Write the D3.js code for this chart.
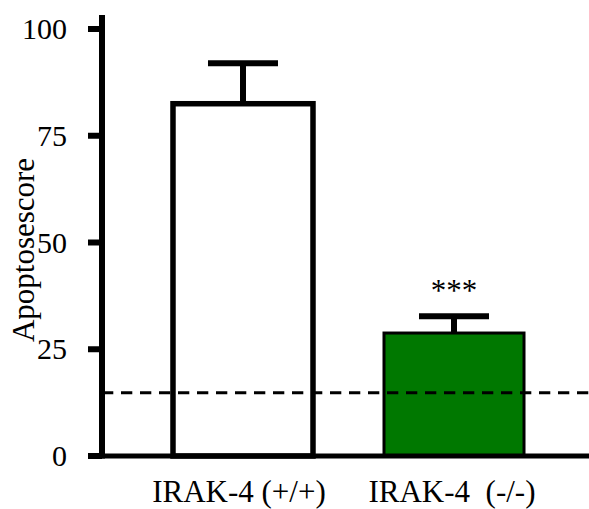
<!DOCTYPE html>
<html>
<head>
<meta charset="utf-8">
<script src="https://cdn.jsdelivr.net/npm/d3@7"></script>
<style>
  html, body { margin: 0; padding: 0; background: #fff; }
  svg { display: block; }
  text { font-family: "Liberation Serif", "Times New Roman", serif; fill: #000; }
</style>
</head>
<body>
<svg id="chart" width="589" height="509"></svg>
<script>
const categories = ["IRAK-4 (+/+)", "IRAK-4  (-/-)"];
const means = [82.5, 28.8];
const errors = [9.5, 3.9];
const fills = ["#ffffff", "#007800"];
const strokeWidths = [5.5, 3];
const significance = ["", "***"];
const baseline = 14.8;
const yTicks = [0, 25, 50, 75, 100];
const yLabel = "Apoptosescore";

const svg = d3.select("#chart");
const y = d3.scaleLinear().domain([0, 100]).range([456, 29]);
const x = d3.scaleBand().domain(categories).range([137.5, 559.5])
  .paddingInner(0.3365).paddingOuter(0.1682);

// bars
categories.forEach((c, i) => {
  const sw = strokeWidths[i];
  const x0 = x(c), w = x.bandwidth();
  const cx = x0 + w / 2;
  // error bar
  const eTop = y(means[i] + errors[i]);
  svg.append("line").attr("x1", cx).attr("x2", cx)
    .attr("y1", y(means[i])).attr("y2", eTop)
    .attr("stroke", "#000").attr("stroke-width", 6);
  svg.append("line").attr("x1", cx - 35).attr("x2", cx + 35)
    .attr("y1", eTop).attr("y2", eTop)
    .attr("stroke", "#000").attr("stroke-width", 6);
  svg.append("rect").attr("x", x0).attr("y", y(means[i]))
    .attr("width", w).attr("height", y(0) - y(means[i]))
    .attr("fill", fills[i]).attr("stroke", "#000").attr("stroke-width", sw);
  if (significance[i]) {
    svg.append("text").attr("x", cx).attr("y", 301)
      .attr("text-anchor", "middle").attr("font-size", 31)
      .text(significance[i]);
  }
});

// dashed baseline
svg.append("line").attr("x1", 102).attr("x2", 589)
  .attr("y1", y(baseline)).attr("y2", y(baseline))
  .attr("stroke", "#000").attr("stroke-width", 3)
  .attr("stroke-dasharray", "11.3,7.7");

// y axis
svg.append("line").attr("x1", 102).attr("x2", 102)
  .attr("y1", 15).attr("y2", 458.5)
  .attr("stroke", "#000").attr("stroke-width", 6);
yTicks.forEach(t => {
  svg.append("line").attr("x1", 88).attr("x2", 102)
    .attr("y1", y(t)).attr("y2", y(t))
    .attr("stroke", "#000").attr("stroke-width", 6);
  svg.append("text").attr("x", 67).attr("y", y(t) + 10)
    .attr("text-anchor", "end").attr("font-size", 30).text(t);
});

// x axis
svg.append("line").attr("x1", 88).attr("x2", 589)
  .attr("y1", y(0)).attr("y2", y(0))
  .attr("stroke", "#000").attr("stroke-width", 5);
categories.forEach((c, i) => {
  svg.append("text").attr("x", x(c) + x.bandwidth() / 2 + (i === 0 ? -4 : -2))
    .attr("y", 502).attr("text-anchor", "middle").attr("font-size", 31)
    .attr("xml:space", "preserve").style("white-space", "pre").text(c);
});

// y label
svg.append("text").attr("transform", "translate(34,250) rotate(-90)")
  .attr("text-anchor", "middle").attr("font-size", 31).text(yLabel);
</script>
</body>
</html>
